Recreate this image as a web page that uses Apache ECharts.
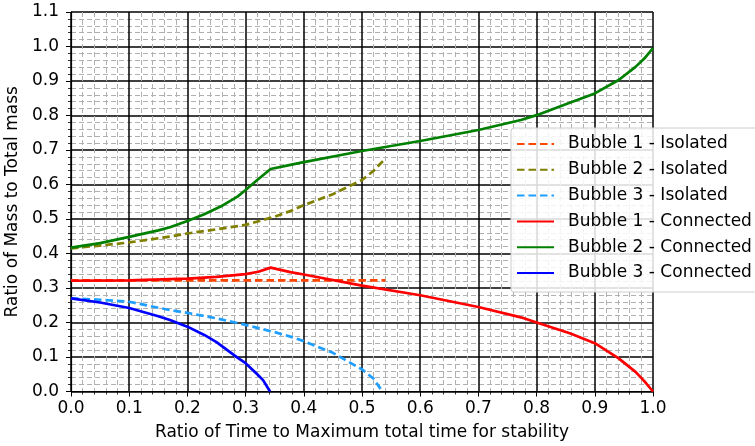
<!DOCTYPE html>
<html>
<head>
<meta charset="utf-8">
<script src="https://cdn.jsdelivr.net/npm/echarts@6/dist/echarts.min.js"></script>
<style>html,body{margin:0;padding:0;background:#fff}#c{width:755px;height:446px}</style>
</head>
<body>
<div id="c"></div>
<script>
const seriesNames = ['Bubble 1 - Isolated','Bubble 2 - Isolated','Bubble 3 - Isolated','Bubble 1 - Connected','Bubble 2 - Connected','Bubble 3 - Connected'];
const xTicks = [0,0.1,0.2,0.3,0.4,0.5,0.6,0.7,0.8,0.9,1.0];
const yTicks = [0,0.1,0.2,0.3,0.4,0.5,0.6,0.7,0.8,0.9,1.0,1.1];

const b1IsoX = [0,0.1,0.2,0.3,0.4,0.5,0.54];
const b1IsoY = [0.322,0.322,0.322,0.322,0.322,0.322,0.322];

const b2IsoX = [0,0.05,0.1,0.17,0.2,0.25,0.3,0.35,0.377,0.4,0.45,0.5,0.52,0.54];
const b2IsoY = [0.415,0.423,0.432,0.449,0.458,0.47,0.483,0.507,0.523,0.54,0.572,0.613,0.64,0.675];

const b3IsoX = [0,0.05,0.1,0.17,0.2,0.25,0.3,0.35,0.377,0.4,0.45,0.5,0.52,0.535];
const b3IsoY = [0.27,0.266,0.26,0.236,0.228,0.212,0.193,0.172,0.159,0.146,0.112,0.064,0.037,0.0];

const b1ConX = [0,0.1,0.2,0.25,0.3,0.322,0.343,0.377,0.4,0.5,0.6,0.7,0.773,0.8,0.857,0.9,0.941,0.97,0.985,1.0];
const b1ConY = [0.321,0.322,0.327,0.332,0.34,0.347,0.359,0.346,0.339,0.307,0.279,0.245,0.215,0.2,0.169,0.14,0.096,0.057,0.03,0.0];

const b2ConX = [0,0.05,0.1,0.15,0.17,0.2,0.229,0.257,0.286,0.3,0.32,0.343,0.377,0.4,0.5,0.6,0.7,0.773,0.8,0.857,0.9,0.941,0.97,0.985,1.0];
const b2ConY = [0.417,0.43,0.448,0.467,0.476,0.494,0.514,0.536,0.565,0.584,0.613,0.645,0.657,0.665,0.697,0.726,0.758,0.787,0.801,0.837,0.864,0.903,0.941,0.965,0.995];

const b3ConX = [0,0.05,0.1,0.15,0.17,0.2,0.229,0.25,0.286,0.3,0.32,0.33,0.342];
const b3ConY = [0.27,0.258,0.242,0.218,0.207,0.188,0.164,0.143,0.098,0.082,0.05,0.033,0.0];

const colors = ['#ff4500','#808000','#1e9fff','#ff0000','#008000','#0000ff'];
const xs = [b1IsoX,b2IsoX,b3IsoX,b1ConX,b2ConX,b3ConX];
const ys = [b1IsoY,b2IsoY,b3IsoY,b1ConY,b2ConY,b3ConY];

const font = 'DejaVu Sans';
const chart = echarts.init(document.getElementById('c'), null, {renderer:'canvas'});

const series = seriesNames.map((n,i)=>({
  name:n, type:'line', symbol:'none', smooth:false, animation:false,
  data: xs[i].map((x,k)=>[x, ys[i][k]]),
  lineStyle:{color:colors[i], width:2.7, type: i<3 ? [7.5,4] : 'solid'},
  itemStyle:{color:colors[i]},
  z: 3
}));

const axisCommon = {
  type:'value',
  interval:0.1,
  axisLine:{show:true, onZero:false, lineStyle:{color:'#000', width:1.2}},
  axisTick:{show:true, inside:false, length:5, lineStyle:{color:'#000', width:1}},
  minorTick:{show:true, splitNumber:5, length:3, lineStyle:{color:'#000', width:0.8}},
  splitLine:{show:true, lineStyle:{color:'#000', width:1.5}},
  minorSplitLine:{show:true, lineStyle:{color:'#b0b0b0', width:1, type:[5,3]}},
  axisLabel:{color:'#000', fontFamily:font, fontSize:17, formatter:v=>v.toFixed(1)},
  nameTextStyle:{color:'#000', fontFamily:font, fontSize:17},
  nameLocation:'middle'
};

chart.setOption({
  animation:false,
  backgroundColor:'#fff',
  grid:{left:71, right:102, top:12, bottom:54.5, containLabel:false, outerBoundsMode:'none'},
  xAxis:Object.assign({}, axisCommon, {
    min:0, max:1, name:'Ratio of Time to Maximum total time for stability', nameGap:33,
    axisLabel:Object.assign({}, axisCommon.axisLabel, {margin:9})
  }),
  yAxis:Object.assign({}, axisCommon, {
    min:0, max:1.1, name:'Ratio of Mass to Total mass', nameGap:45,
    axisLabel:Object.assign({}, axisCommon.axisLabel, {margin:12})
  }),
  legend:{
    show:true, orient:'vertical', left:511, top:128,
    data:seriesNames,
    itemWidth:37, itemHeight:14, itemGap:7.8,
    itemStyle:{opacity:0},
    backgroundColor:'rgba(255,255,255,0.85)', borderColor:'#cccccc', borderWidth:1, borderRadius:3,
    padding:[7,20,10,5],
    textStyle:{color:'#000', fontFamily:font, fontSize:17, lineHeight:18, padding:[0,0,0,9]}
  },
  series:series
});
</script>
</body>
</html>
